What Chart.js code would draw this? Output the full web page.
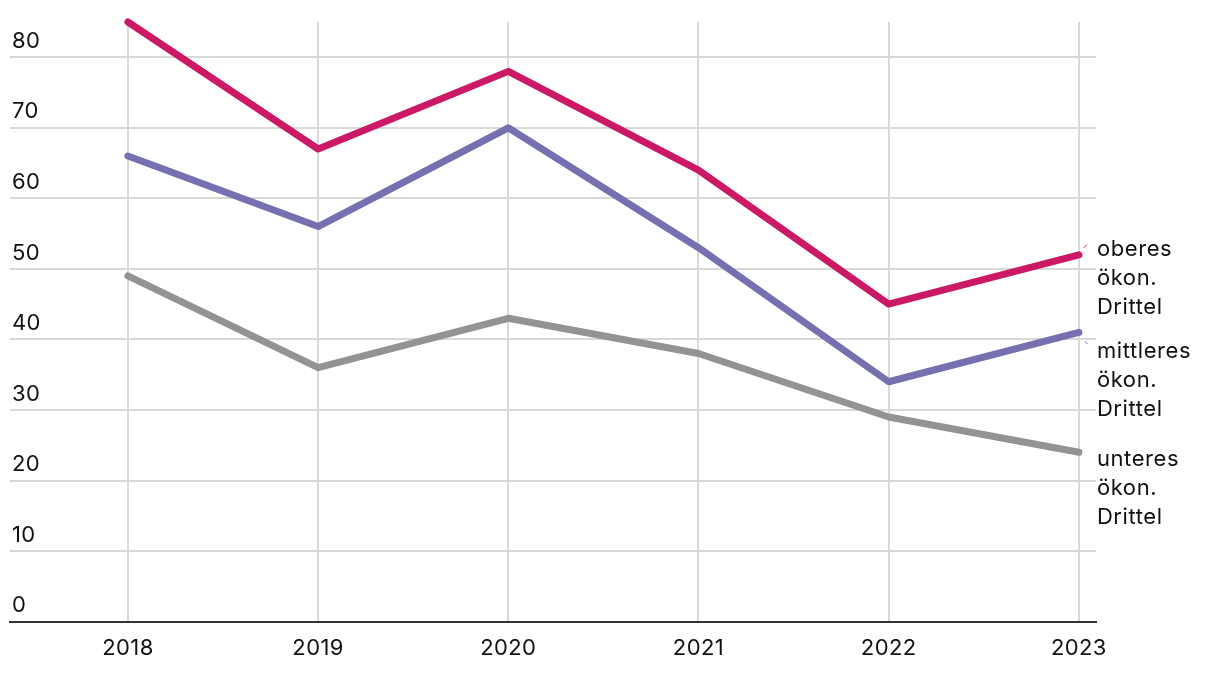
<!DOCTYPE html>
<html>
<head>
<meta charset="utf-8">
<script src="https://cdn.jsdelivr.net/npm/chart.js@4.4.1/dist/chart.umd.min.js"></script>
<style>
html,body{margin:0;padding:0;background:#fff;}
#wrap{width:1220px;height:674px;position:relative;}
</style>
</head>
<body>
<div id="wrap"><canvas id="c" width="1220" height="674"></canvas></div>
<script>
const years = [2018, 2019, 2020, 2021, 2022, 2023];
const yTicks = [0, 10, 20, 30, 40, 50, 60, 70, 80];
const upperThird = [85, 67, 78, 64, 45, 52];
const middleThird = [66, 56, 70, 53, 34, 41];
const lowerThird = [49, 36, 43, 38, 29, 24];
const seriesLabels = [
  ['oberes', 'ökon.', 'Drittel'],
  ['mittleres', 'ökon.', 'Drittel'],
  ['unteres', 'ökon.', 'Drittel']
];
const colors = ['#cc1966', '#7670b0', '#939393'];

const FONT = 'Inter, "Liberation Sans", sans-serif';

const spacing = {
  id: 'spacing',
  beforeDraw(chart) { chart.ctx.letterSpacing = '0.4px'; }
};

const endLabels = {
  id: 'endLabels',
  afterDatasetsDraw(chart) {
    const ctx = chart.ctx;
    const offsets = [-5, 19, 7];
    ctx.save();
    ctx.font = '22px ' + FONT;
    ctx.letterSpacing = '0.6px';
    ctx.fillStyle = '#111';
    ctx.textAlign = 'left';
    ctx.textBaseline = 'middle';
    chart.data.datasets.forEach((ds, i) => {
      const meta = chart.getDatasetMeta(i);
      const p = meta.data[meta.data.length - 1];
      const x = p.x + 18;
      const y0 = p.y + offsets[i];
      seriesLabels[i].forEach((t, j) => ctx.fillText(t, x, y0 + j * 29));
      if (i < 2) {
        ctx.strokeStyle = colors[i];
        ctx.lineWidth = 1;
        ctx.beginPath();
        if (i === 0) { ctx.moveTo(p.x + 5, p.y - 7); ctx.lineTo(p.x + 8, p.y - 10); }
        else { ctx.moveTo(p.x + 6, p.y + 9); ctx.lineTo(p.x + 9, p.y + 12); }
        ctx.stroke();
      }
    });
    ctx.restore();
  }
};

const mk = (data, i) => ({
  data: data.map((v, k) => ({x: years[k], y: v})),
  borderColor: colors[i],
  backgroundColor: colors[i],
  borderWidth: 7,
  borderCapStyle: 'round',
  borderJoinStyle: 'round',
  pointRadius: 0,
  pointHoverRadius: 0,
  tension: 0,
  fill: false,
  clip: false
});

new Chart(document.getElementById('c'), {
  type: 'line',
  data: {
    datasets: [mk(upperThird, 0), mk(middleThird, 1), mk(lowerThird, 2)]
  },
  options: {
    responsive: false,
    animation: false,
    layout: {padding: {left: 6, right: 124, top: 22, bottom: -2}},
    plugins: {legend: {display: false}, tooltip: {enabled: false}},
    scales: {
      x: {
        type: 'linear',
        min: 2017.38,
        max: 2023.09,
        afterBuildTicks: (axis) => { axis.ticks = years.map(v => ({value: v})); },
        grid: {color: '#d9d9d9', lineWidth: 2, drawTicks: false},
        border: {display: true, color: '#333', width: 2},
        ticks: {
          padding: 14,
          color: '#111',
          font: {family: FONT, size: 22},
          callback: (v) => String(v),
          maxRotation: 0,
          autoSkip: false
        }
      },
      y: {
        min: 0,
        max: 85,
        afterBuildTicks: (axis) => { axis.ticks = yTicks.map(v => ({value: v})); },
        grid: {color: '#d9d9d9', lineWidth: 2, drawTicks: false},
        border: {display: false},
        ticks: {
          mirror: true,
          padding: 2,
          labelOffset: -16,
          color: '#111',
          font: {family: FONT, size: 22}
        }
      }
    }
  },
  plugins: [spacing, endLabels]
});
</script>
</body>
</html>
